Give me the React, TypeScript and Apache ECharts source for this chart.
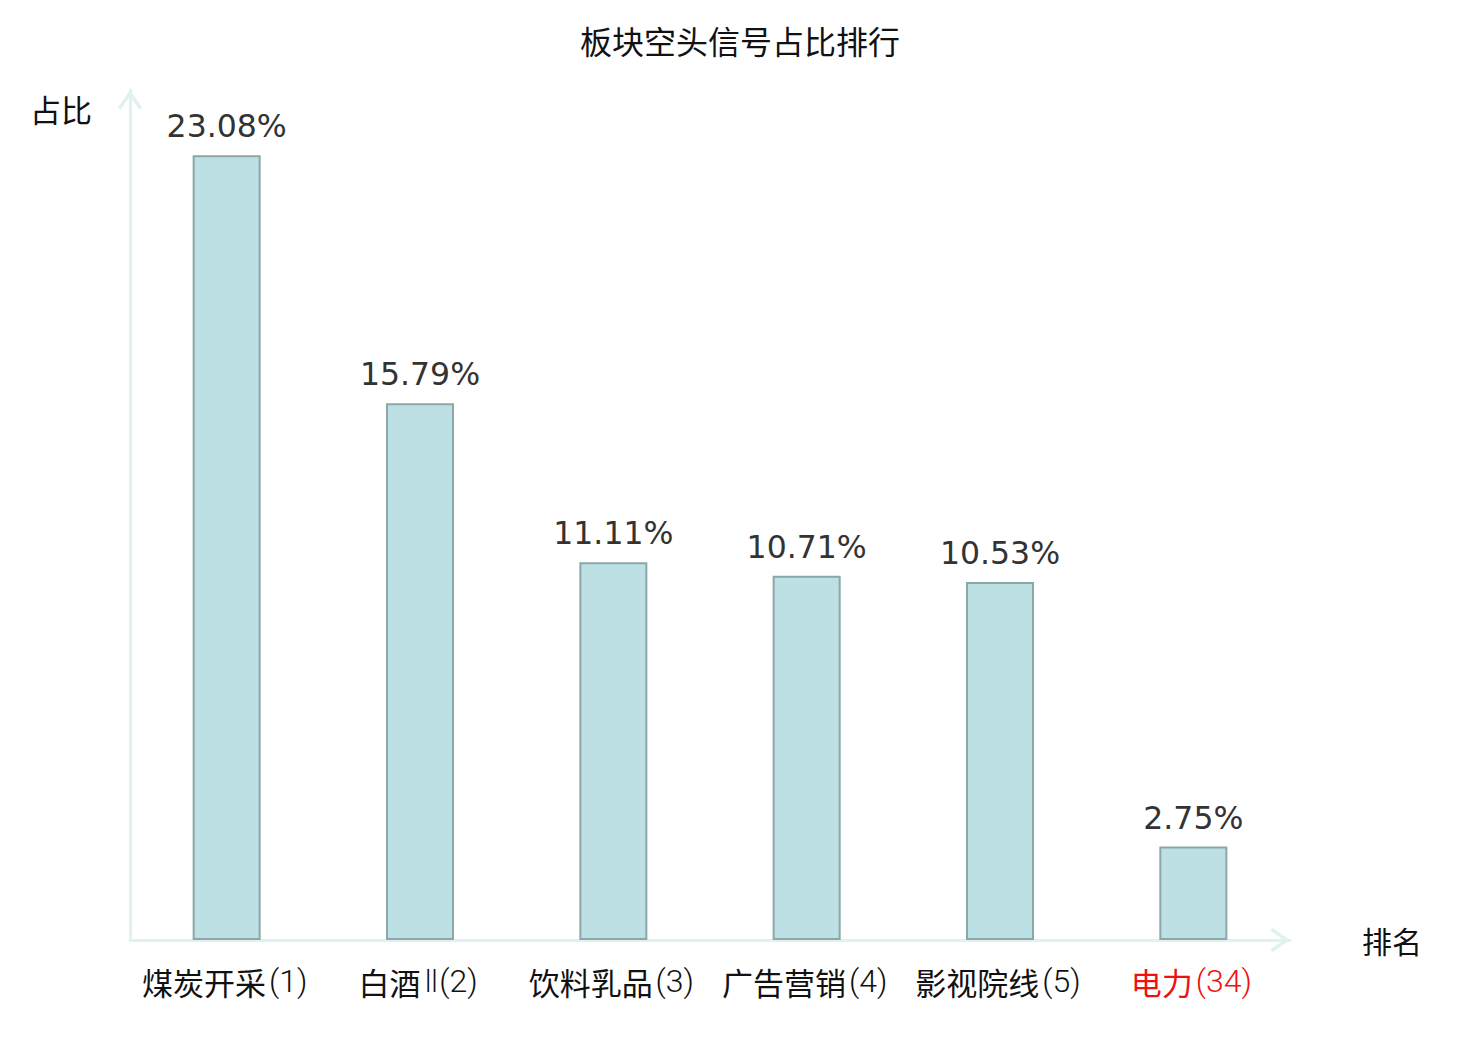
import React, { useEffect, useRef } from "react";
import * as echarts from "echarts";

const titleText = "板块空头信号占比排行";
const categories = ["煤炭开采(1)", "白酒Ⅱ(2)", "饮料乳品(3)", "广告营销(4)", "影视院线(5)", "电力(34)"];
const values = [23.08, 15.79, 11.11, 10.71, 10.53, 2.75];
const highlightIndex = [5];
const yName = "占比";
const xName = "排名";
const yMax = 25;

const CJK = '"Noto Sans CJK SC", "Noto Sans", sans-serif';
const LIGHT = 'Roboto, Lato, "DejaVu Sans", "Noto Sans CJK SC", sans-serif';
const axisColor = "#dff2ef";
const arrowPath = "path://M12,0 L24,17 L21.6,19.6 L12,6 L2.4,19.6 L0,17 Z";

export default function App() {
  const ref = useRef<HTMLDivElement>(null);
  useEffect(() => {
    document.body.style.margin = "0";
    if (!ref.current) return;
    const chart = echarts.init(ref.current, null, { renderer: "svg" });
    const axisLine = {
      show: true,
      symbol: ["none", arrowPath],
      symbolSize: [24, 20],
      symbolOffset: [0, -10],
      lineStyle: { color: axisColor, width: 3 },
    };
    const black = "#111";
    const red = "#ee1111";
    const nStyle = { fontFamily: LIGHT, fontWeight: 300, fontSize: 32, padding: [0, 4, 0, 3] };
    chart.setOption({
      animation: false,
      backgroundColor: "#ffffff",
      title: {
        text: titleText,
        left: "center",
        top: 24,
        padding: 0,
        textStyle: { fontFamily: CJK, fontSize: 32, fontWeight: "normal", color: black },
      },
      grid: { left: 130, right: 190, top: 90, bottom: 100, containLabel: false },
      xAxis: {
        type: "category",
        data: categories,
        name: xName,
        nameLocation: "end",
        nameGap: 72,
        nameTextStyle: { fontFamily: CJK, fontSize: 30, color: black, verticalAlign: "middle" },
        axisLine,
        axisTick: { show: false },
        axisLabel: {
          interval: 0,
          margin: 25,
          formatter: (v: string, i: number) => {
            const m = v.match(/^([\u4e00-\u9fff]+)(.*)$/);
            const hl = highlightIndex.includes(i);
            const h = hl ? "hr" : "h";
            const n = hl ? "nr" : "n";
            if (!m) return `{${n}|${v}}`;
            return `{${h}|${m[1]}}{${n}|${m[2]}}`;
          },
          rich: {
            h: { fontFamily: CJK, fontSize: 31, color: black },
            n: { ...nStyle, color: black },
            hr: { fontFamily: CJK, fontSize: 31, color: red },
            nr: { ...nStyle, color: red },
          },
        },
        splitLine: { show: false },
        z: 1,
      },
      yAxis: {
        type: "value",
        min: 0,
        max: yMax,
        name: yName,
        nameLocation: "end",
        nameGap: -18,
        nameTextStyle: {
          fontFamily: CJK,
          fontSize: 31,
          color: black,
          align: "right",
          verticalAlign: "middle",
          padding: [0, 38, 0, 0],
        },
        axisLine,
        axisTick: { show: false },
        axisLabel: { show: false },
        splitLine: { show: false },
      },
      series: [
        {
          type: "bar",
          data: values,
          barWidth: 68,
          z: 3,
          itemStyle: { color: "#bce0e3", borderColor: "#8ca7a7", borderWidth: 2 },
          label: {
            show: true,
            position: "top",
            distance: 13,
            formatter: (p: any) => p.value.toFixed(2) + "%",
            fontFamily: '"DejaVu Sans", sans-serif',
            fontSize: 31.5,
            color: "#333",
          },
        },
      ],
    });
    return () => chart.dispose();
  }, []);
  return <div ref={ref} style={{ width: 1480, height: 1040 }} />;
}
